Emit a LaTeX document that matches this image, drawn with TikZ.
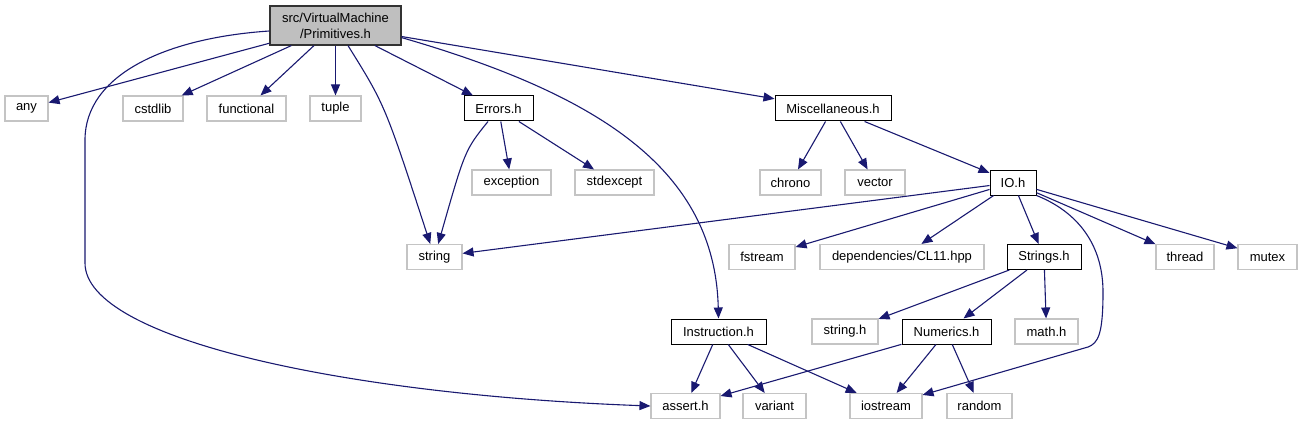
\documentclass[tikz,border=0pt]{standalone}
\usepackage{fontspec}
\setmainfont{Liberation Sans}
\usetikzlibrary{arrows.meta,calc}
\definecolor{edgeblue}{HTML}{191970}
\definecolor{grayfill}{HTML}{BFBFBF}
\definecolor{extborder}{HTML}{C4C4C4}
\tikzset{
  base/.style={rectangle,inner sep=0pt,minimum height=25pt,font=\fontsize{13}{16}\selectfont,line width=1pt},
  mainbox/.style={base,draw=black!80,fill=grayfill,line width=1.2pt},
  intbox/.style={base,draw=black,fill=white},
  extbox/.style={base,draw=extborder,fill=white,line width=1.1pt},
  dep/.style={draw=edgeblue,line width=1.1pt,-{Triangle[length=11pt,width=9pt]}}
}
\begin{document}
\begin{tikzpicture}[x=1pt,y=-1pt]
\useasboundingbox (0,0) rectangle (1303,425);
% nodes
\node[mainbox,minimum width=131pt,minimum height=39pt,align=center] (prim) at (335.5,25.5) {src/VirtualMachine\\/Primitives.h};
\node[extbox,minimum width=43pt] (any) at (26.5,108.5) {any};
\node[extbox,minimum width=60pt] (cstdlib) at (153,108.5) {cstdlib};
\node[extbox,minimum width=79pt] (functional) at (246.5,108.5) {functional};
\node[extbox,minimum width=51pt] (tuple) at (335.5,108.5) {tuple};
\node[intbox,minimum width=69pt] (errors) at (498.5,108.5) {Errors.h};
\node[intbox,minimum width=116pt] (misc) at (833,108.5) {Miscellaneous.h};
\node[extbox,minimum width=79pt] (exception) at (511.5,182.5) {exception};
\node[extbox,minimum width=79pt] (stdexcept) at (614.5,182.5) {stdexcept};
\node[extbox,minimum width=61pt] (chrono) at (790.5,182.5) {chrono};
\node[extbox,minimum width=60pt] (vector) at (875,182.5) {vector};
\node[intbox,minimum width=46pt] (io) at (1013,182.5) {IO.h};
\node[extbox,minimum width=55pt] (string) at (434.5,257) {string};
\node[extbox,minimum width=66pt] (fstream) at (762,257) {fstream};
\node[extbox,minimum width=164pt] (cl11) at (902,257) {dependencies/CL11.hpp};
\node[intbox,minimum width=74pt] (strings) at (1044,257) {Strings.h};
\node[extbox,minimum width=58pt] (thread) at (1185,257) {thread};
\node[extbox,minimum width=59pt] (mutex) at (1267.5,257) {mutex};
\node[intbox,minimum width=95pt] (instr) at (718.5,331.5) {Instruction.h};
\node[extbox,minimum width=66pt] (stringh) at (845,331.5) {string.h};
\node[intbox,minimum width=89pt] (numerics) at (946.5,331.5) {Numerics.h};
\node[extbox,minimum width=63pt] (mathh) at (1046.5,331.5) {math.h};
\node[extbox,minimum width=69pt] (assert) at (685.5,406) {assert.h};
\node[extbox,minimum width=63pt] (variant) at (774.5,406) {variant};
\node[extbox,minimum width=72pt] (iostream) at (886,406) {iostream};
\node[extbox,minimum width=65pt] (random) at (979.5,406) {random};
% edges from Primitives
\draw[dep] (prim) -- (any);
\draw[dep] (prim) -- (cstdlib);
\draw[dep] (prim) -- (functional);
\draw[dep] (prim) -- (tuple);
\draw[dep] (prim) .. controls (385,105) .. (string);
\draw[dep] (prim) -- (errors);
\draw[dep] ($(prim.south east)+(0,-8)$) .. controls (600,95) and (715,170) .. (instr.north);
\draw[dep] (prim) -- (misc);
\draw[dep] ($(prim.west)+(0,5.5)$) .. controls (165,38) and (85,75) .. (85,140) -- (85,263) .. controls (85,340) and (350,395) .. (assert.west);
% Errors
\draw[dep] (errors) .. controls (465,150) .. (string);
\draw[dep] (errors) -- (exception);
\draw[dep] (errors) -- (stdexcept);
% Misc
\draw[dep] (misc) -- (chrono);
\draw[dep] (misc) -- (vector);
\draw[dep] (misc) -- (io);
% IO
\draw[dep] (io) -- (string);
\draw[dep] (io) -- (fstream);
\draw[dep] (io) -- (cl11);
\draw[dep] (io) -- (strings);
\draw[dep] (io.south east) .. controls (1078,212) and (1103,245) .. (1103,292) .. controls (1103,335) and (1098,343) .. (1088,347) -- ($(iostream.north east)+(0,2)$);
\draw[dep] (io) -- (thread);
\draw[dep] (io) -- (mutex);
% Strings
\draw[dep] (strings) -- (stringh);
\draw[dep] (strings) -- (numerics);
\draw[dep] (strings) -- (mathh);
% Instruction
\draw[dep] (instr) -- (assert);
\draw[dep] (instr) -- (variant);
\draw[dep] (instr) -- (iostream);
% Numerics
\draw[dep] (numerics) -- (assert);
\draw[dep] (numerics) -- (iostream);
\draw[dep] (numerics) -- (random);
\end{tikzpicture}
\end{document}
